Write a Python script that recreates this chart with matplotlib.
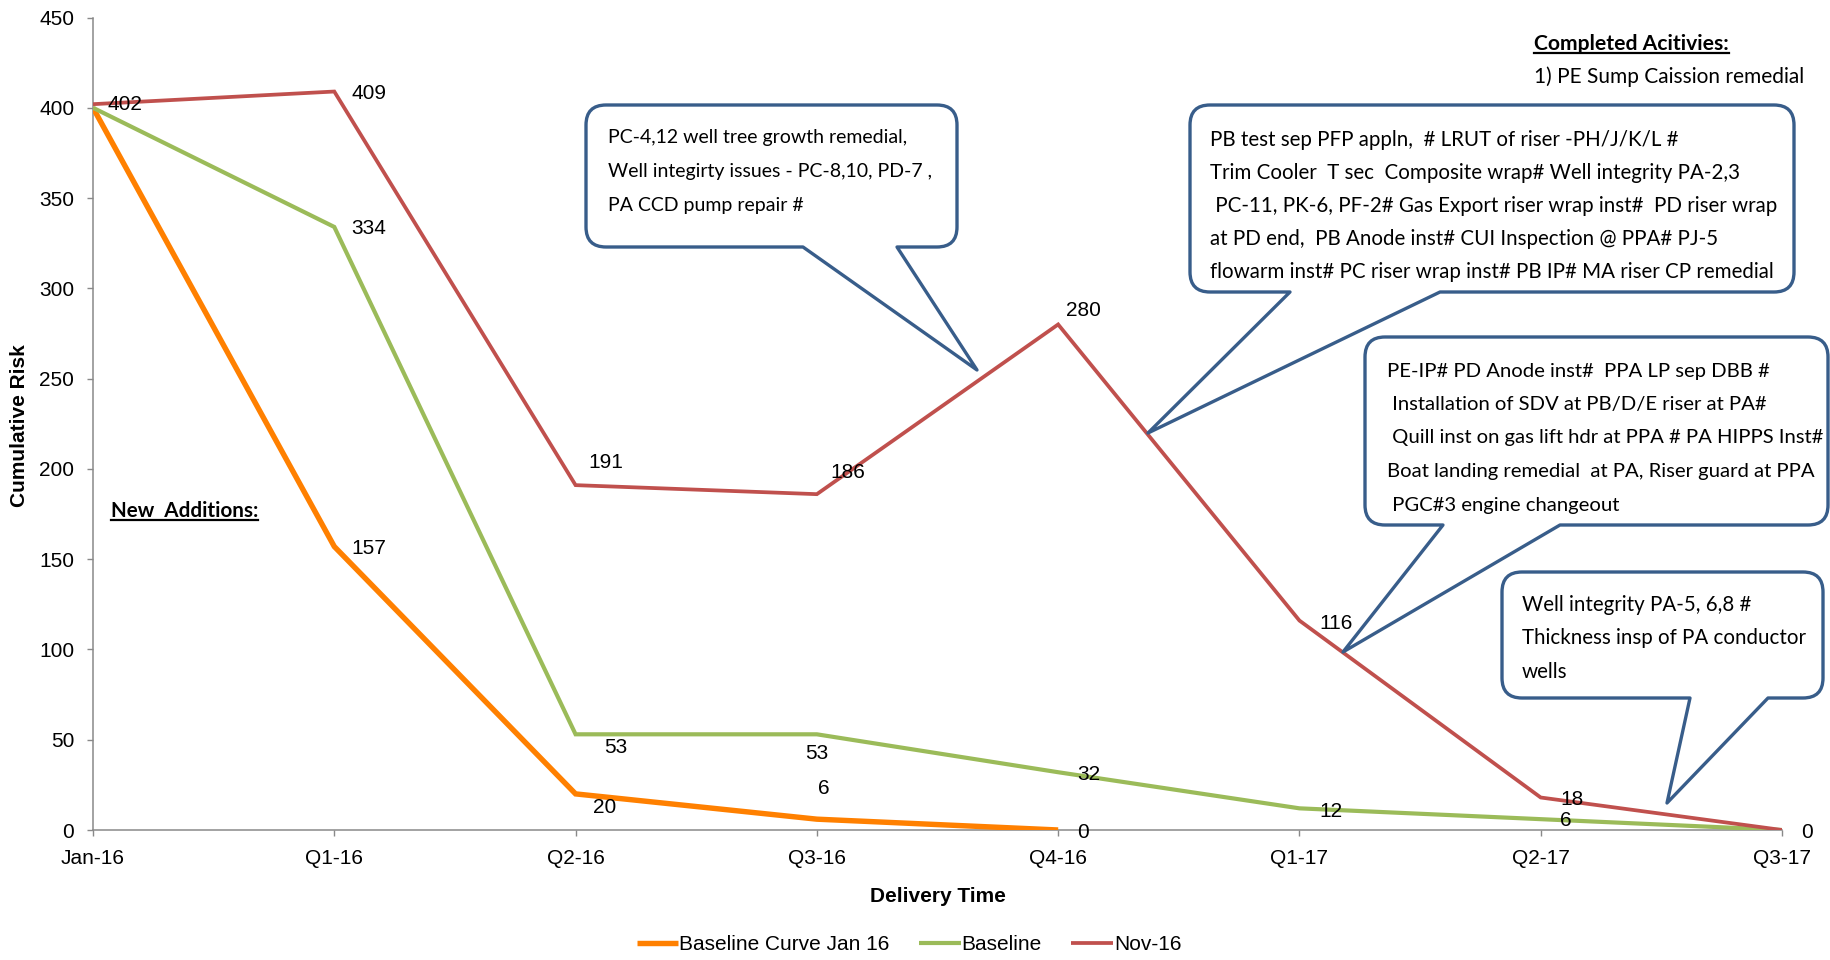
import matplotlib
matplotlib.use("Agg")
import matplotlib.pyplot as plt
from matplotlib.path import Path
from matplotlib.patches import PathPatch
from matplotlib.lines import Line2D

# ---- data -------------------------------------------------------------
categories = ["Jan-16", "Q1-16", "Q2-16", "Q3-16", "Q4-16", "Q1-17", "Q2-17", "Q3-17"]
baseline_jan16 = [400, 157, 20, 6, 0]
baseline = [400, 334, 53, 53, 32, 12, 6, 0]
nov16 = [402, 409, 191, 186, 280, 116, 18, 0]
y_ticks = [0, 50, 100, 150, 200, 250, 300, 350, 400, 450]

series_names = ["Baseline Curve Jan 16", "Baseline", "Nov-16"]

note_completed_title = "Completed Acitivies:"
note_completed_items = ["1) PE Sump Caission remedial"]
note_new_title = "New  Additions:"

callout_q3_16 = ["PC-4,12 well tree growth remedial,",
                 "Well integirty issues - PC-8,10, PD-7 ,",
                 "PA CCD pump repair #"]
callout_q4_16 = ["PB test sep PFP appln,  # LRUT of riser -PH/J/K/L #",
                 "Trim Cooler  T sec  Composite wrap# Well integrity PA-2,3",
                 " PC-11, PK-6, PF-2# Gas Export riser wrap inst#  PD riser wrap",
                 "at PD end,  PB Anode inst# CUI Inspection @ PPA# PJ-5",
                 "flowarm inst# PC riser wrap inst# PB IP# MA riser CP remedial"]
callout_q1_17 = ["PE-IP# PD Anode inst#  PPA LP sep DBB #",
                 " Installation of SDV at PB/D/E riser at PA#",
                 " Quill inst on gas lift hdr at PPA # PA HIPPS Inst#",
                 "Boat landing remedial  at PA, Riser guard at PPA",
                 " PGC#3 engine changeout"]
callout_q2_17 = ["Well integrity PA-5, 6,8 #",
                 "Thickness insp of PA conductor",
                 "wells"]

# ---- style ------------------------------------------------------------
W, H = 1830, 960
ARIAL = ["Liberation Sans", "DejaVu Sans"]
CALIBRI = ["Lato", "DejaVu Sans"]
C_ORANGE = "#FF8000"
C_GREEN = "#9BBB59"
C_RED = "#C0504D"
C_BLUE = "#385D8A"
C_AXIS = "#898989"

plt.rcParams["font.family"] = ARIAL

fig = plt.figure(figsize=(W / 100, H / 100), dpi=100)
ax = fig.add_axes([93 / W, 1 - 830 / H, (1782 - 93) / W, (830 - 17.5) / H])

x_idx = list(range(len(categories)))
ax.plot(x_idx[:len(baseline_jan16)], baseline_jan16, color=C_ORANGE, lw=3.9,
        solid_capstyle="butt", solid_joinstyle="miter", label=series_names[0], zorder=3)
ax.plot(x_idx[:len(baseline)], baseline, color=C_GREEN, lw=3.0,
        solid_capstyle="butt", solid_joinstyle="miter", label=series_names[1], zorder=4)
ax.plot(x_idx[:len(nov16)], nov16, color=C_RED, lw=2.7,
        solid_capstyle="butt", solid_joinstyle="miter", label=series_names[2], zorder=5)

# data labels: offsets in pixels from the point (left edge of text, vertical centre)
label_offsets = {
    "orange": {1: (17, -2), 2: (17, -14), 3: (1, 31), 4: (19, -2)},
    "green": {1: (17, -2), 2: (29, -13), 3: (-12, -19), 4: (19, -2), 5: (20, -3), 6: (19, -1)},
    "red": {0: (15, 0), 1: (17, -2), 2: (13, 23), 3: (14, 22), 4: (8, 14), 5: (20, -3),
            6: (20, -2), 7: (19, -2)},
}
for key, values in (("orange", baseline_jan16), ("green", baseline), ("red", nov16)):
    for i, (dx, dy) in label_offsets[key].items():
        ax.annotate(f"{values[i]}", xy=(i, values[i]), xytext=(dx, dy),
                    textcoords="offset pixels", ha="left", va="center",
                    fontsize=15, color="black", zorder=6)

ax.set_xlim(0, len(categories) - 1)
ax.set_ylim(0, 450)
ax.set_xticks(x_idx)
ax.set_xticklabels(categories)
ax.set_yticks(y_ticks)
for s in ("top", "right"):
    ax.spines[s].set_visible(False)
for s in ("left", "bottom"):
    ax.spines[s].set_color(C_AXIS)
    ax.spines[s].set_linewidth(1.1)
ax.tick_params(axis="both", colors=C_AXIS, labelcolor="black", labelsize=15,
               length=4.5, width=1.0, direction="out")
ax.tick_params(axis="y", pad=9)
ax.tick_params(axis="x", pad=9)

ax.set_xlabel("Delivery Time", fontsize=15, fontweight="bold", labelpad=14)
fig.text(20 / W, 1 - 426 / H, "Cumulative Risk", rotation=90, ha="center", va="center",
         fontsize=15, fontweight="bold")

fig.legend(loc="center", bbox_to_anchor=(909 / W, 1 - 945 / H), ncol=3, frameon=False,
           fontsize=15, handlelength=2.0, handletextpad=0.05, columnspacing=1.4)


def fx(x):
    return x / W


def fy(y):
    return 1 - y / H


def bubble(box, base, tip, r=20):
    x0, y0, x1, y1 = box
    bl, br = base
    v = [(x0 + r, y0), (x1 - r, y0), (x1, y0), (x1, y0 + r), (x1, y1 - r),
         (x1, y1), (x1 - r, y1), (br, y1), tip, (bl, y1), (x0 + r, y1),
         (x0, y1), (x0, y1 - r), (x0, y0 + r), (x0, y0), (x0 + r, y0), (x0 + r, y0)]
    c = [Path.MOVETO, Path.LINETO, Path.CURVE3, Path.CURVE3, Path.LINETO,
         Path.CURVE3, Path.CURVE3, Path.LINETO, Path.LINETO, Path.LINETO, Path.LINETO,
         Path.CURVE3, Path.CURVE3, Path.LINETO, Path.CURVE3, Path.CURVE3, Path.CLOSEPOLY]
    verts = [(fx(a), fy(b)) for a, b in v]
    patch = PathPatch(Path(verts, c), facecolor="white", edgecolor=C_BLUE, lw=2.4,
                      joinstyle="round", transform=fig.transFigure, zorder=10)
    fig.add_artist(patch)


def block(lines, x, y_first, step, size):
    for i, line in enumerate(lines):
        fig.text(fx(x), fy(y_first + i * step), line, ha="left", va="center",
                 fontsize=size, family=CALIBRI, zorder=11)


bubble((586, 105, 957, 247), (803, 897), (977, 370))
block(callout_q3_16, 608, 137, 34.5, 14.0)

bubble((1190, 105, 1794, 292), (1290, 1440), (1148, 433))
block(callout_q4_16, 1210, 140, 33, 14.8)

bubble((1365, 337, 1828, 525), (1443, 1560), (1343, 652))
block(callout_q1_17, 1387, 371, 33.5, 14.6)

bubble((1502, 572, 1823, 698), (1690, 1768), (1667, 803))
block(callout_q2_17, 1522, 605, 33.5, 14.8)

# side notes with underlined headings
t_done = fig.text(fx(1534), fy(44), note_completed_title, ha="left", va="center",
                  fontsize=15.2, fontweight="bold", family=CALIBRI)
fig.text(fx(1534), fy(77), note_completed_items[0], ha="left", va="center",
         fontsize=15, family=CALIBRI)
t_new = fig.text(fx(111), fy(511), note_new_title, ha="left", va="center",
                 fontsize=14.9, fontweight="bold", family=CALIBRI)

fig.canvas.draw()
renderer = fig.canvas.get_renderer()
for t in (t_done, t_new):
    bb = t.get_window_extent(renderer)
    yline = bb.y0 + 1
    fig.add_artist(Line2D([bb.x0 / W, bb.x1 / W], [yline / H, yline / H],
                          color="black", lw=1.6, transform=fig.transFigure))

fig.savefig("out.png", dpi=100)
